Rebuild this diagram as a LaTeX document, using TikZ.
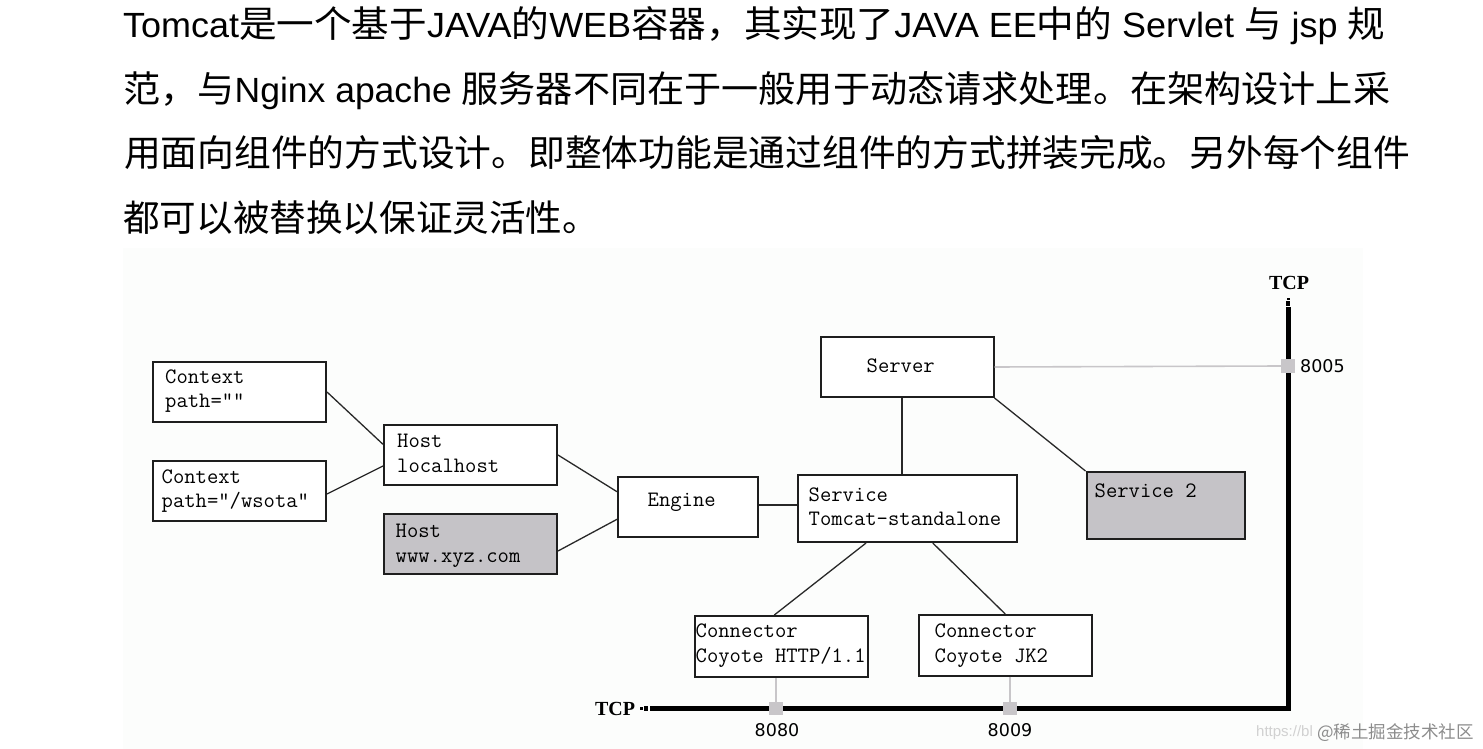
\documentclass[tikz,border=0pt]{standalone}
\usepackage{fontspec}
\usepackage{graphicx}
\setmainfont{Liberation Sans}
\newfontfamily\cjk{Noto Sans CJK SC}
\newfontfamily\tcpfont{Liberation Serif}
\newfontfamily\portfont{DejaVu Sans}
\newcommand\zh[1]{{\cjk\fontsize{36.6}{40}\selectfont #1}}
\definecolor{boxc}{RGB}{30,30,30}
\definecolor{wirec}{RGB}{40,40,40}
\definecolor{greyfill}{RGB}{197,195,199}
\definecolor{portc}{RGB}{200,198,201}
\definecolor{bgc}{RGB}{252,253,252}
\tikzset{
  para/.style={anchor=base west, inner sep=0pt, font=\fontsize{35}{40}\selectfont},
  box/.style={draw=boxc, line width=2pt, inner sep=0pt, anchor=north west, fill=white},
  gbox/.style={box, fill=greyfill},
  mono/.style={anchor=base west, inner sep=0pt, font=\ttfamily\fontsize{22}{24}\selectfont},
  wire/.style={draw=wirec, line width=1.3pt},
  wiretk/.style={draw=wirec, line width=2pt},
  gwire/.style={draw=portc, line width=1.6pt},
  port/.style={fill=portc, minimum size=13.5pt, inner sep=0pt},
  tcpline/.style={line width=5pt, line join=miter},
  tcplab/.style={inner sep=0pt, font=\tcpfont\bfseries\fontsize{20}{22}\selectfont},
  portlab/.style={inner sep=0pt, font=\portfont\fontsize{17.5}{20}\selectfont}
}
\begin{document}
\begin{tikzpicture}[x=1pt,y=-1pt]
\useasboundingbox[fill=white] (0,0) rectangle (1483,749);
\fill[bgc] (123,248) rectangle (1363,749);

% paragraph
\node[para] (l1) at (123,38) {\resizebox{1262pt}{\height}{Tomcat\zh{是一个基于}JAVA\zh{的}WEB\zh{容器，其实现了}JAVA EE\zh{中的} Servlet \zh{与} jsp \zh{规}}};
\node[para] (l2) at (123,102.5) {\resizebox{1267pt}{\height}{\zh{范，与}Nginx apache \zh{服务器不同在于一般用于动态请求处理。在架构设计上采}}};
\node[para] (l3) at (124,167) {\resizebox{1286pt}{\height}{\zh{用面向组件的方式设计。即整体功能是通过组件的方式拼装完成。另外每个组件}}};
\node[para] (l4) at (123,231.5) {\zh{都可以被替换以保证灵活性。}};

% boxes
\node[box, minimum width=173pt, minimum height=60pt] (ctx1) at (152,361) {};
\node[box, minimum width=173pt, minimum height=60pt] (ctx2) at (152,460) {};
\node[box, minimum width=173pt, minimum height=60pt] (host1) at (383,424) {};
\node[gbox, minimum width=173pt, minimum height=60pt] (host2) at (383,512.5) {};
\node[box, minimum width=140pt, minimum height=60pt] (engine) at (617,476) {};
\node[box, minimum width=219.5pt, minimum height=67pt] (service) at (796.5,474) {};
\node[box, minimum width=173pt, minimum height=60pt] (server) at (819.5,336) {};
\node[gbox, minimum width=158pt, minimum height=66.5pt] (service2) at (1085.5,471) {};
\node[box, minimum width=173pt, minimum height=61pt] (conn1) at (693.5,615) {};
\node[box, minimum width=173.5pt, minimum height=60.5pt] (conn2) at (917.5,614) {};

% box texts
\node[mono] (t1a) at (165,383) {Context};
\node[mono] (t1b) at (165,407) {path=""};
\node[mono] (t2a) at (161.5,483) {Context};
\node[mono] (t2b) at (161.5,507.5) {path="/wsota"};
\node[mono] (t3a) at (397,447.5) {Host};
\node[mono] (t3b) at (397,472.5) {localhost};
\node[mono] (t4a) at (395.5,537.5) {Host};
\node[mono] (t4b) at (395.5,562) {www.xyz.com};
\node[mono] (t5) at (647.5,506) {Engine};
\node[mono] (t6a) at (808.5,501) {Service};
\node[mono] (t6b) at (808.5,525) {Tomcat-standalone};
\node[mono] (t7) at (866.5,372.5) {Server};
\node[mono] (t8) at (1094.5,497.5) {Service 2};
\node[mono] (t9a) at (695.5,637.5) {Connector};
\node[mono] (t9b) at (695.5,662.5) {Coyote HTTP/1.1};
\node[mono] (t10a) at (934.5,637.5) {Connector};
\node[mono] (t10b) at (934.5,662.5) {Coyote JK2};

% TCP lines
\coordinate (tcpA) at (650,708.5);
\coordinate (tcpC) at (1288,708.5);
\coordinate (tcpB) at (1288,307);
\draw[tcpline] (tcpA) -- (tcpC) -- (tcpB);
\fill (640,707.3) rectangle (642.7,710);
\fill (644.3,706.3) rectangle (648.3,710.7);
\fill (1286.5,298.3) rectangle (1289.5,300.3);
\fill (1285.8,301.3) rectangle (1290.2,306);
\node[tcplab] (tcpbot) at (615,708.5) {TCP};
\node[tcplab] (tcptop) at (1289,282.5) {TCP};

% ports
\node[port] (p8005) at (1288,366) {};
\node[port] (p8080) at (776,708.5) {};
\node[port] (p8009) at (1010,708.5) {};
\node[portlab, anchor=west] (l8005) at (1300,366) {8005};
\node[portlab] (l8080) at (777,730) {8080};
\node[portlab] (l8009) at (1010,730) {8009};

% grey wires
\draw[gwire] (server.east) -- (p8005.west);
\draw[gwire] (p8080 |- conn1.south) -- (p8080.north);
\draw[gwire] (p8009 |- conn2.south) -- (p8009.north);

% connectors
\draw[wire] (ctx1.east) -- ([yshift=10.7pt]host1.west);
\draw[wire] ([yshift=-3pt]ctx2.east) -- ([yshift=-11pt]host1.west);
\draw[wire] (host1.east) -- ([yshift=15.3pt]engine.west);
\draw[wire] ([yshift=-7.5pt]host2.east) -- ([yshift=-12.3pt]engine.west);
\draw[wiretk] ([yshift=2pt]engine.east) -- ([yshift=2pt]engine.east -| service.west);
\draw[wiretk] ([xshift=-4.7pt]server.south) -- ([xshift=-4.7pt]server.south |- service.north);
\draw[wire] (server.south east) -- (service2.north west);
\draw[wire] ([xshift=-41.2pt]service.south) -- ([xshift=-6.7pt]conn1.north);
\draw[wire] ([xshift=25.5pt]service.south) -- (conn2.north);

% watermark
\node[inner sep=0pt, anchor=west, text=black!18, font=\fontsize{15}{18}\selectfont] (wm1) at (1256,733) {https://bl};
\node[inner sep=0pt, anchor=west, text=black!45, font=\cjk\fontsize{17.5}{20}\selectfont] (wm2) at (1317,733) {@稀土掘金技术社区};
\end{tikzpicture}
\end{document}
